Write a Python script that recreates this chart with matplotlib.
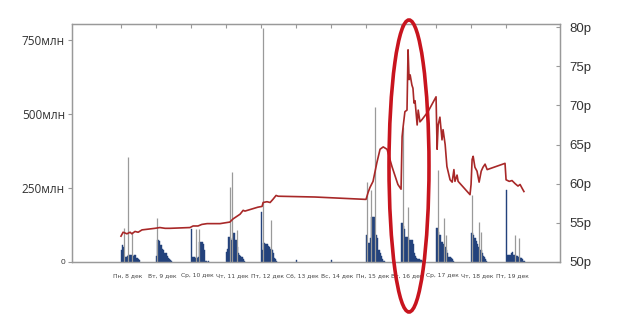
import matplotlib
matplotlib.use("Agg")
import matplotlib.pyplot as plt
from matplotlib.patches import Ellipse

# day labels, one per trading day (Dec 8 .. Dec 19)
day_labels = ["Пн, 8 дек", "Вт, 9 дек", "Ср, 10 дек", "Чт, 11 дек", "Пт, 12 дек",
              "Сб, 13 дек", "Вс, 14 дек", "Пн, 15 дек", "Вт, 16 дек", "Ср, 17 дек",
              "Чт, 18 дек", "Пт, 19 дек"]

# volume per interval within each day's session, millions
vol_blue = [
    [40, 57, 50, 17, 17, 17, 20, 24, 24, 24, 24, 20, 24, 24, 13, 13, 10, 8],
    [20, 74, 74, 70, 57, 57, 45, 40, 30, 30, 20, 13, 10, 7, 5],
    [110, 17, 17, 17, 15, 17, 15, 17, 68, 68, 68, 60, 40, 5, 3, 0, 4],
    [34, 44, 84, 84, 74, 74, 80, 98, 98, 74, 50, 30, 25, 20, 17, 17, 10, 5],
    [169, 40, 64, 64, 60, 60, 60, 55, 50, 45, 40, 30, 15, 10, 5],
    [8],
    [6],
    [91, 64, 64, 64, 80, 152, 152, 152, 152, 91, 80, 40, 40, 30, 20, 10, 5, 3],
    [132, 132, 120, 110, 84, 84, 84, 80, 74, 74, 74, 60, 30, 20, 15, 10, 10, 10, 8, 8, 5, 3],
    [115, 115, 100, 91, 91, 68, 68, 60, 50, 40, 30, 17, 17, 17, 15, 10, 5],
    [98, 98, 90, 80, 80, 70, 60, 50, 40, 40, 30, 20, 17, 10, 5],
    [243, 24, 24, 24, 24, 30, 35, 24, 24, 20, 20, 17, 17, 15, 13, 10, 5, 3],
]

# single-interval volume spikes: (day, interval index, millions)
spike_day = [0, 0, 0, 1, 2, 2, 3, 3, 3, 4, 4, 7, 7, 7, 8, 8, 9, 9, 9, 10, 10, 10, 11, 11]
spike_idx = [2, 6, 10, 0, 4, 7, 3, 5, 10, 1, 9, 0, 4, 8, 1, 6, 1, 7, 9, 0, 7, 9, 8, 12]
spike_vol = [115, 355, 100, 149, 110, 110, 253, 304, 108, 790, 142, 270, 243, 524, 456, 186,
             311, 149, 91, 226, 135, 101, 91, 80]

# close price, rubles (time in days from Dec 8 session start)
price_t = [0.00, 0.06, 0.17, 0.26, 0.31, 0.40, 0.49, 0.60, 0.97, 1.11, 1.26, 1.40, 1.97, 2.06,
           2.20, 2.31, 2.46, 2.83, 2.97, 3.11, 3.20, 3.40, 3.49, 3.54, 3.91, 4.03, 4.06, 4.17,
           4.26, 4.34, 4.43, 4.49, 5.54, 6.97, 7.00, 7.06, 7.11, 7.20, 7.31, 7.40, 7.49, 7.60,
           7.74, 7.91, 8.00, 8.03, 8.06, 8.11, 8.17, 8.20, 8.23, 8.26, 8.31, 8.34, 8.37, 8.40,
           8.46, 8.49, 8.54, 8.60, 8.77, 9.00, 9.03, 9.06, 9.11, 9.17, 9.20, 9.26, 9.31, 9.40,
           9.46, 9.51, 9.54, 9.60, 9.63, 9.97, 10.00, 10.03, 10.06, 10.11, 10.17, 10.23, 10.29,
           10.34, 10.40, 10.46, 10.97, 11.00, 11.09, 11.17, 11.26, 11.34, 11.40, 11.46, 11.51]
price_v = [53.3, 53.8, 53.6, 53.8, 53.6, 53.9, 53.8, 54.1, 54.3, 54.4, 54.3, 54.3, 54.4, 54.6,
           54.6, 54.8, 54.9, 54.9, 55.0, 55.1, 55.5, 56.1, 56.6, 56.5, 57.0, 57.1, 57.6, 57.7,
           57.6, 58.0, 58.5, 58.4, 58.3, 58.0, 58.0, 58.9, 59.5, 60.3, 62.7, 64.4, 64.7, 64.4,
           62.2, 59.9, 59.3, 66.0, 67.3, 69.2, 69.4, 77.1, 73.3, 73.9, 72.6, 72.2, 70.3, 70.6,
           67.5, 69.4, 67.9, 68.2, 69.2, 71.1, 64.4, 67.5, 68.5, 65.6, 66.9, 65.0, 62.2, 60.5,
           60.2, 61.8, 60.3, 61.1, 60.3, 58.6, 59.9, 63.1, 63.5, 62.1, 61.6, 60.2, 61.6, 62.1,
           62.5, 61.8, 62.6, 60.5, 60.3, 60.4, 60.0, 59.7, 59.9, 59.4, 59.0]

vol_ticks = [0, 250, 500, 750]
vol_tick_labels = ["0", "250млн", "500млн", "750млн"]
price_ticks = [50, 55, 60, 65, 70, 75, 80]

step = 0.03  # interval width in days

fig = plt.figure(figsize=(6.2, 3.15), dpi=100)
ax = fig.add_axes([0.1161, 0.1683, 0.7871, 0.7555])
ax2 = ax.twinx()

for d, vols in enumerate(vol_blue):
    xs = [d + i * step for i in range(len(vols))]
    ax.bar(xs, vols, width=step, align="edge", color="#23427c",
           edgecolor="#23427c", linewidth=0.3)

for d, i, v in zip(spike_day, spike_idx, spike_vol):
    ax.vlines(d + i * step + step / 2, 0, v, color="#9a9a9a", linewidth=0.9)

ax2.plot(price_t, price_v, color="#a82828", linewidth=1.2)

ax.set_xlim(-1.4, 12.54)
ax.set_ylim(0, 804)
ax2.set_ylim(50, 80.4)

ax.set_yticks(vol_ticks)
ax.set_yticklabels(vol_tick_labels, fontfamily="Open Sans", fontsize=8.5, color="#333333")
ax.get_yticklabels()[0].set_fontsize(6)
ax.tick_params(axis="y", direction="out", length=3, color="#999999", pad=2)

ax2.set_yticks(price_ticks)
ax2.set_yticklabels([f"{p}р" for p in price_ticks], fontfamily="Liberation Sans",
                    fontsize=9.5, color="#333333")
ax2.tick_params(axis="y", direction="in", length=3, color="#999999", pad=7)

# day ticks on top, labels below
ax.set_xticks(range(len(day_labels)))
ax.set_xticklabels([])
ax.tick_params(axis="x", which="major", bottom=False, top=True, direction="in",
               length=3, color="#999999")
ax.set_xticks([d + 0.18 for d in range(len(day_labels))], minor=True)
ax.set_xticklabels(day_labels, minor=True, fontsize=4.3, color="#444444")
ax.tick_params(axis="x", which="minor", length=0, pad=8)

for a in (ax, ax2):
    for s in a.spines.values():
        s.set_color("#999999")
        s.set_linewidth(0.9)

fig.patches.append(Ellipse((409 / 620, 1 - 166 / 315), 40 / 620, 292 / 315,
                           transform=fig.transFigure, fill=False,
                           edgecolor="#c8141e", linewidth=2.6))

fig.savefig("out.png", dpi=100)
